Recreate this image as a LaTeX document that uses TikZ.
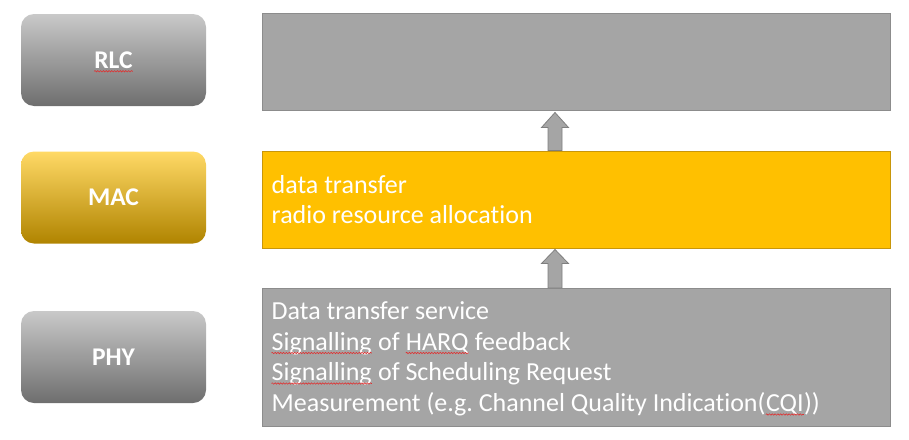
\documentclass[tikz,border=0pt]{standalone}
\usepackage{fontspec}
\setmainfont{Carlito}[Ligatures=CommonOff]
\usetikzlibrary{decorations.pathmorphing,calc}
\definecolor{boxgray}{HTML}{A5A5A5}
\definecolor{boxgrayline}{HTML}{8C8C8C}
\definecolor{gold}{HTML}{FFC000}
\definecolor{goldline}{HTML}{C8960A}
\definecolor{gtop}{HTML}{C9C9C9}
\definecolor{gbot}{HTML}{6E6E6E}
\definecolor{mtop}{HTML}{FFD966}
\definecolor{mbot}{HTML}{B08400}
\definecolor{arrowline}{HTML}{7F7F7F}
\definecolor{squigred}{HTML}{E03030}
\frenchspacing
\newcommand\bodyfont{\fontsize{26}{31}\selectfont}
\begin{document}
\begin{tikzpicture}[x=1pt,y=-1pt,
  layer/.style={rounded corners=13pt, minimum width=185pt, minimum height=92pt, inner sep=0pt},
  graylayer/.style={layer, top color=gtop, bottom color=gbot},
  maclayer/.style={layer, top color=mtop, middle color=gold, bottom color=mbot},
  lbl/.style={inner sep=0pt, text=white, font=\fontsize{25.5}{30}\selectfont\bfseries},
  funcbox/.style={draw=boxgrayline, fill=boxgray, line width=1pt, minimum width=628.5pt, inner sep=0pt},
  txt/.style={inner sep=0pt, anchor=base west, text=white, font=\bodyfont},
  squig/.style={draw=squigred, line width=0.6pt, decorate, decoration={snake, amplitude=0.7pt, segment length=2.8pt}},
  blockarrow/.style={fill=boxgray, draw=arrowline, line width=0.8pt, line join=miter}
]
\useasboundingbox (0,0) rectangle (909,439);

% left layer boxes
\node[graylayer] (rlcL) at (113.5,60) {};
\node[maclayer] (macL) at (113.5,197.5) {};
\node[graylayer] (phyL) at (113.5,357) {};
\node[lbl] (rlcT) at (rlcL.center) {RLC};
\node[lbl] (macT) at (macL.center) {MAC};
\node[lbl] (phyT) at (phyL.center) {PHY};

% right function boxes
\node[funcbox, minimum height=97pt] (rlcR) at (576.25,62) {};
\node[funcbox, draw=goldline, fill=gold, minimum height=97pt] (macR) at (576.25,199.5) {};
\node[funcbox, minimum height=137.5pt] (phyR) at (576.25,357.25) {};

% MAC text
\node[txt] (m1) at (271.5,193.5) {data transfer};
\node[txt] (m2) at (271.5,223.5) {radio resource allocation};

% PHY text
\node[txt] (p1) at (271.5,319.5) {Data transfer service};
\node[txt] (p2a) at (271.5,350) {Signalling};
\node[txt] (p2b) at (p2a.base east) {\ of\ \mbox{}};
\node[txt] (p2c) at (p2b.base east) {HARQ};
\node[txt] (p2d) at (p2c.base east) {\ feedback};
\node[txt] (p3a) at (271.5,380.5) {Signalling};
\node[txt] (p3b) at (p3a.base east) {\ of Scheduling Request};
\node[txt] (p4a) at (271.5,411.5) {Measurement (e.g. Channel Quality Indication(};
\node[txt] (p4b) at (p4a.base east) {CQI};
\node[txt] (p4c) at (p4b.base east) {))};

% spell-check squiggles
\draw[squig] ([yshift=-3pt]rlcT.base west) -- ([yshift=-3pt]rlcT.base east);
\draw[squig] ([yshift=-3pt]p2a.base west) -- ([yshift=-3pt]p2a.base east);
\draw[squig] ([yshift=-3pt]p2c.base west) -- ([yshift=-3pt]p2c.base east);
\draw[squig] ([yshift=-3pt]p3a.base west) -- ([yshift=-3pt]p3a.base east);
\draw[squig] ([yshift=-3pt]p4b.base west) -- ([yshift=-3pt]p4b.base east);

% block arrows
\path (macR.north west) ++(293.5,0) coordinate (a1);
\draw[blockarrow] (a1) ++(-7,0) -- ++(0,-23) -- ++(-6.5,0) -- ++(13.5,-15) -- ++(13.5,15) -- ++(-6.5,0) -- ++(0,23) -- cycle;
\path (phyR.north west) ++(293.5,0) coordinate (a2);
\draw[blockarrow] (a2) ++(-7,0) -- ++(0,-24.5) -- ++(-6.5,0) -- ++(13.5,-14) -- ++(13.5,14) -- ++(-6.5,0) -- ++(0,24.5) -- cycle;
\end{tikzpicture}
\end{document}
